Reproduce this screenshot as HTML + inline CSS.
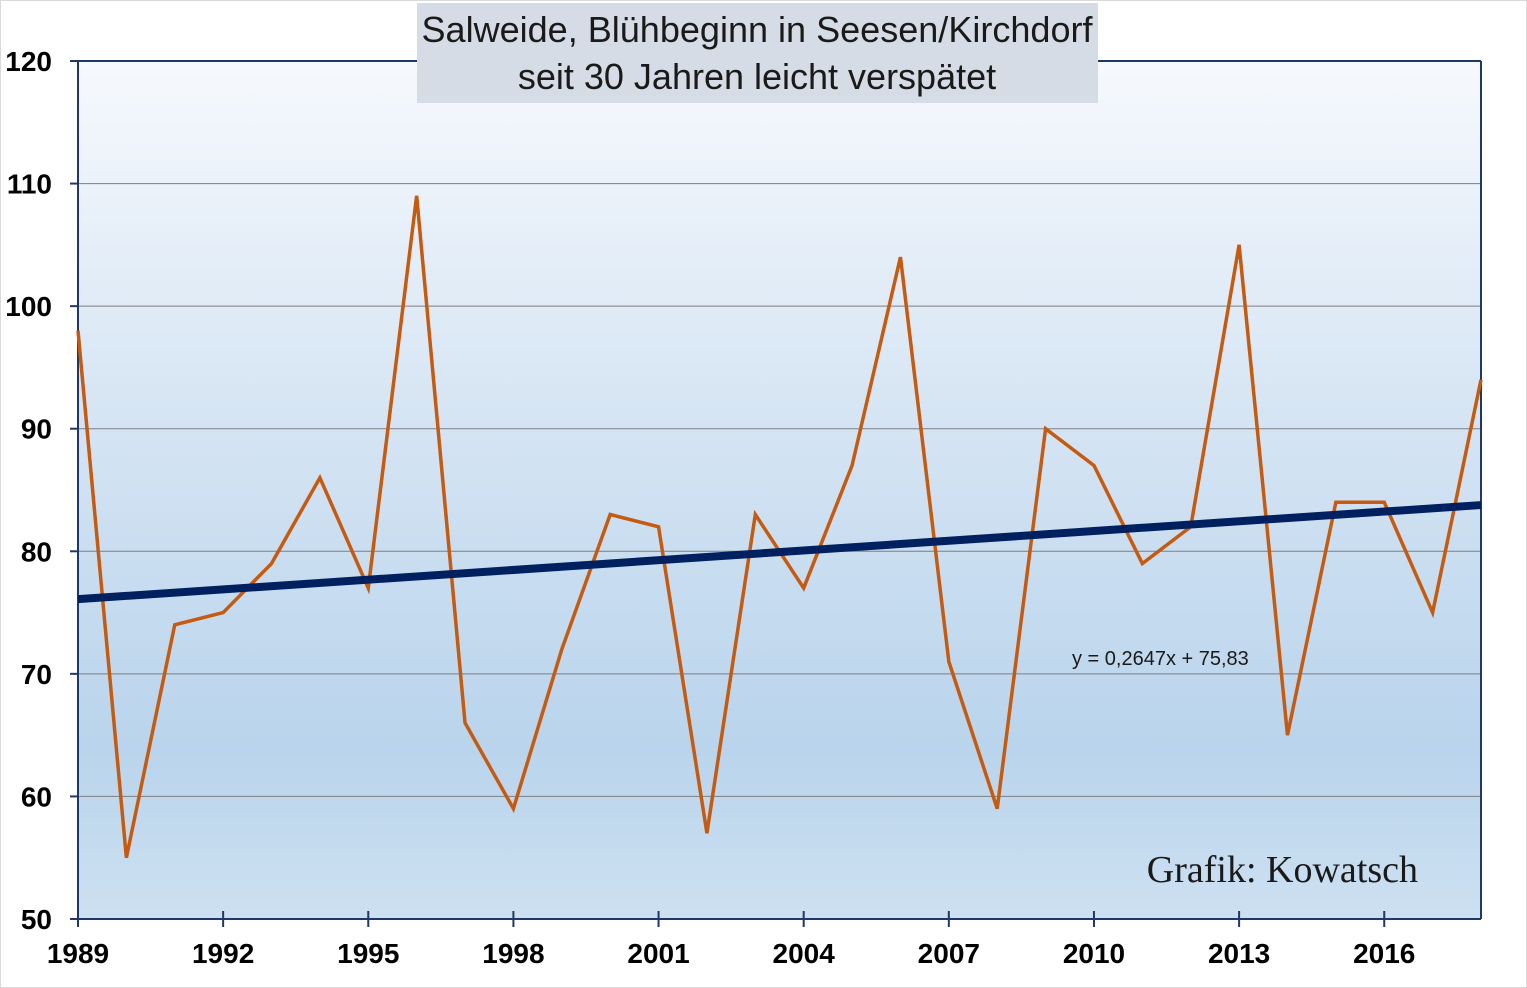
<!DOCTYPE html>
<html><head><meta charset="utf-8"><style>
body{margin:0;background:#fff;width:1527px;height:988px;overflow:hidden}
svg{display:block}
</style></head><body>
<svg id="chart" width="1527" height="988" xmlns="http://www.w3.org/2000/svg">
<defs>
<linearGradient id="bg" x1="0" y1="0" x2="0" y2="1">
<stop offset="0" stop-color="#f6f9fd"/>
<stop offset="0.45" stop-color="#d3e3f3"/>
<stop offset="0.8" stop-color="#b9d4ec"/>
<stop offset="1" stop-color="#cde0f1"/>
</linearGradient>
</defs>
<rect x="0.5" y="0.5" width="1526" height="987" fill="#fff" stroke="#d9d9d9"/>
<rect x="78" y="61" width="1403" height="858" fill="url(#bg)"/>
<g id="grid"></g>
<g id="axes"></g>
<g id="series"></g>
<rect x="417" y="3" width="681" height="100" fill="#d6dce5"/>
<text x="757" y="42" text-anchor="middle" font-family="'Liberation Sans',sans-serif" font-size="36" textLength="671" lengthAdjust="spacingAndGlyphs" fill="#1a1a1a">Salweide, Blühbeginn in Seesen/Kirchdorf</text>
<text x="757" y="89" text-anchor="middle" font-family="'Liberation Sans',sans-serif" font-size="36" fill="#1a1a1a">seit 30 Jahren leicht verspätet</text>
<text x="1072" y="665" font-family="'Liberation Sans',sans-serif" font-size="20" fill="#1a1a1a">y = 0,2647x + 75,83</text>
<text x="1418" y="882" text-anchor="end" font-family="'Liberation Serif',serif" font-size="38" fill="#1a1a1a">Grafik: Kowatsch</text>
</svg>
<script>
const years=[1989,1990,1991,1992,1993,1994,1995,1996,1997,1998,1999,2000,2001,2002,2003,2004,2005,2006,2007,2008,2009,2010,2011,2012,2013,2014,2015,2016,2017,2018];
const values=[98,55,74,75,79,86,77,109,66,59,72,83,82,57,83,77,87,104,71,59,90,87,79,82,105,65,84,84,75,94];
const yTicks=[50,60,70,80,90,100,110,120];
const xTickLabels=[1989,1992,1995,1998,2001,2004,2007,2010,2013,2016];
const trendSlope=0.2647;
const trendIntercept=75.83;
const NS='http://www.w3.org/2000/svg';
const X0=78,X1=1481,Y0=919,Y1=61;
const xs=y=>X0+(y-years[0])/(years[years.length-1]-years[0])*(X1-X0);
const ys=v=>Y0-(v-50)/(120-50)*(Y0-Y1);
function mk(tag,attrs,parent){const e=document.createElementNS(NS,tag);for(const k in attrs)e.setAttribute(k,attrs[k]);document.getElementById(parent).appendChild(e);return e;}
yTicks.forEach(t=>{
 if(t>50){const g=mk('line',{x1:X0,x2:X1,y1:ys(t),y2:ys(t),stroke:'#7f7f7f','stroke-width':1},'grid');
 
 }
 const tk=mk('line',{x1:X0-8,x2:X0,y1:ys(t),y2:ys(t),stroke:'#1f3864','stroke-width':2},'axes');
 
 
 const lb=mk('text',{x:52,y:ys(t)+10,'text-anchor':'end','font-family':'Liberation Sans,sans-serif','font-size':28,'font-weight':'bold',fill:'#000'},'axes');
 lb.textContent=t;
 
 
});
const ya=mk('line',{x1:X0,x2:X0,y1:Y1,y2:Y0,stroke:'#1f3864','stroke-width':2},'axes');


const ya2=mk('line',{x1:X1,x2:X1,y1:Y1,y2:Y0,stroke:'#1f3864','stroke-width':2},'axes');


const yt=mk('line',{x1:X0,x2:X1,y1:Y1,y2:Y1,stroke:'#1f3864','stroke-width':2},'axes');


const xa=mk('line',{x1:X0,x2:X1,y1:Y0,y2:Y0,stroke:'#1f3864','stroke-width':2},'axes');


xTickLabels.forEach(y=>{
 const tk=mk('line',{x1:xs(y),x2:xs(y),y1:Y0-8,y2:Y0+8,stroke:'#1f3864','stroke-width':2},'axes');
 
 
 const lb=mk('text',{x:xs(y),y:963,'text-anchor':'middle','font-family':'Liberation Sans,sans-serif','font-size':28,'font-weight':'bold',fill:'#000'},'axes');
 lb.textContent=y;
 
 
});
const pts=years.map((y,i)=>xs(y)+','+ys(values[i])).join(' ');
const line=mk('polyline',{points:pts,fill:'none',stroke:'#c55a11','stroke-width':3.5,'stroke-linejoin':'miter'},'series');


const n=years.length;
const tr=mk('line',{x1:xs(years[0]),y1:ys(trendSlope*1+trendIntercept),x2:xs(years[n-1]),y2:ys(trendSlope*n+trendIntercept),stroke:'#002060','stroke-width':8},'series');


</script>
</body></html>
